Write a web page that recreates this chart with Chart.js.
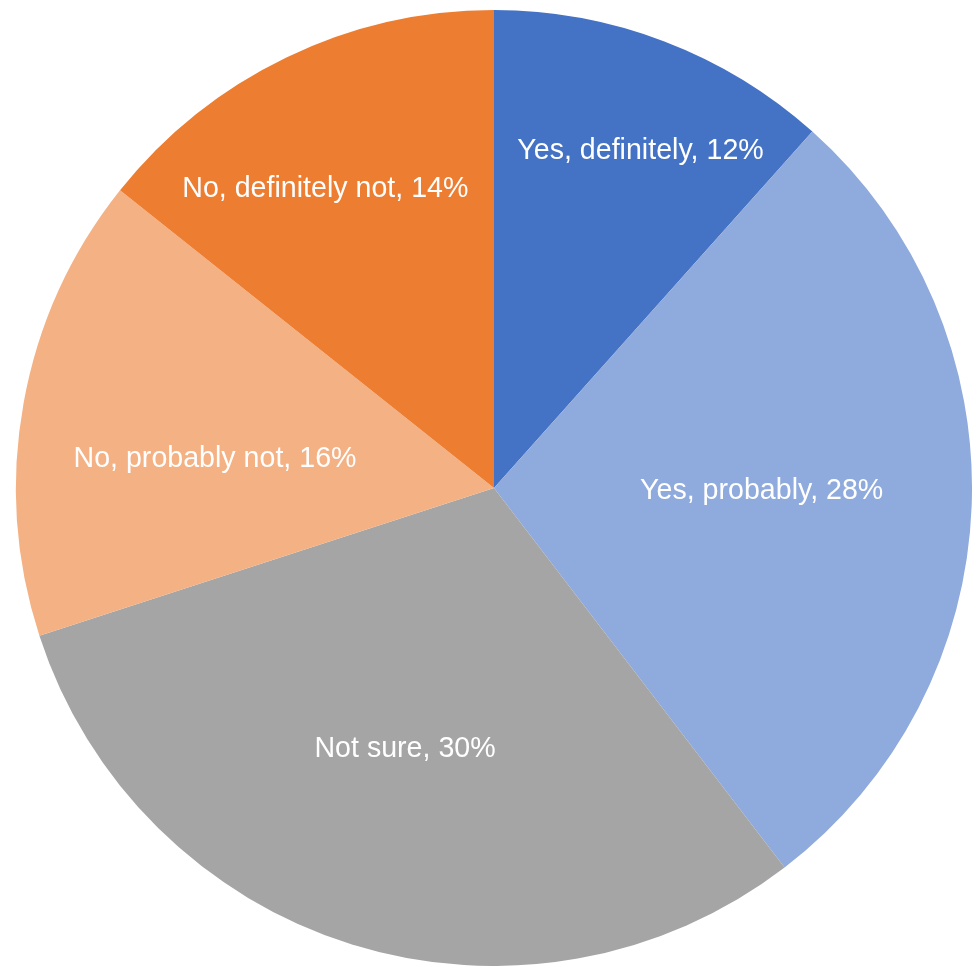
<!DOCTYPE html>
<html>
<head>
<meta charset="utf-8">
<script src="https://cdn.jsdelivr.net/npm/chart.js@4/dist/chart.umd.min.js"></script>
<style>
  html, body { margin: 0; padding: 0; background: #fff; }
  #wrap { width: 972px; height: 966px; position: relative; }
</style>
</head>
<body>
<div id="wrap"><canvas id="chart"></canvas></div>
<script>
// ===== DATA =====
const categories = ['Yes, definitely', 'Yes, probably', 'Not sure', 'No, probably not', 'No, definitely not'];
const shares     = [11.6, 28.0, 30.4, 15.7, 14.3];
const colors     = ['#4472C4', '#8FAADC', '#A5A5A5', '#F4B183', '#ED7D31'];

// slice labels drawn inside the pie, Excel "best fit" look
const labelPlugin = {
  id: 'sliceLabels',
  afterDatasetsDraw(chart, args, opts) {
    const ctx = chart.ctx;
    const meta = chart.getDatasetMeta(0);
    ctx.save();
    ctx.fillStyle = '#fff';
    ctx.font = '28.6px "Liberation Sans", Arial, sans-serif';
    ctx.textAlign = 'center';
    ctx.textBaseline = 'middle';
    meta.data.forEach(function(arc, i) {
      const p = arc.getProps(['x', 'y', 'startAngle', 'endAngle', 'outerRadius'], true);
      const mid = (p.startAngle + p.endAngle) / 2 + (opts.shift[i] || 0);
      const r = p.outerRadius * opts.frac[i];
      const x = p.x + Math.cos(mid) * r;
      const y = p.y + Math.sin(mid) * r;
      ctx.fillText(categories[i] + ', ' + Math.round(shares[i]) + '%', x, y + 1);
    });
    ctx.restore();
  }
};

new Chart(document.getElementById('chart'), {
  type: 'pie',
  data: {
    labels: categories,
    datasets: [{
      data: shares,
      backgroundColor: colors,
      borderWidth: 0
    }]
  },
  options: {
    responsive: true,
    maintainAspectRatio: false,
    animation: false,
    layout: { padding: { left: 16, top: 10, right: 0, bottom: 0 } },
    plugins: {
      legend: { display: false },
      tooltip: { enabled: false },
      sliceLabels: {
        frac:  [0.77, 0.56, 0.575, 0.587, 0.72],
        shift: [0.045, -0.031, 0.028, -0.073, -0.063]
      }
    }
  },
  plugins: [labelPlugin]
});
</script>
</body>
</html>
